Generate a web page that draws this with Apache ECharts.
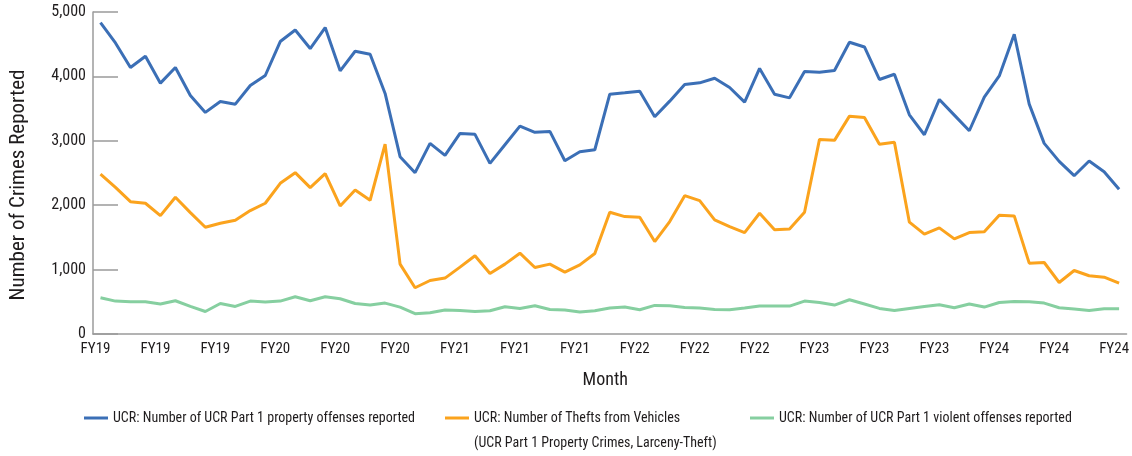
<!DOCTYPE html>
<html>
<head>
<meta charset="utf-8">
<title>UCR crimes reported by month</title>
<script src="https://cdn.jsdelivr.net/npm/echarts@6/dist/echarts.min.js"></script>
<style>
  html, body { margin: 0; padding: 0; background: #fff; }
  #chart { width: 1132px; height: 456px; }
</style>
</head>
<body>
<div id="chart"></div>
<script>
// Monthly values, Jul 2018 (FY19) through Mar 2024 (FY24)
const months = [
  'FY19', 'FY19', 'FY19', 'FY19', 'FY19', 'FY19', 'FY19', 'FY19', 'FY19', 'FY19', 'FY19', 'FY19',
  'FY20', 'FY20', 'FY20', 'FY20', 'FY20', 'FY20', 'FY20', 'FY20', 'FY20', 'FY20', 'FY20', 'FY20',
  'FY21', 'FY21', 'FY21', 'FY21', 'FY21', 'FY21', 'FY21', 'FY21', 'FY21', 'FY21', 'FY21', 'FY21',
  'FY22', 'FY22', 'FY22', 'FY22', 'FY22', 'FY22', 'FY22', 'FY22', 'FY22', 'FY22', 'FY22', 'FY22',
  'FY23', 'FY23', 'FY23', 'FY23', 'FY23', 'FY23', 'FY23', 'FY23', 'FY23', 'FY23', 'FY23', 'FY23',
  'FY24', 'FY24', 'FY24', 'FY24', 'FY24', 'FY24', 'FY24', 'FY24', 'FY24'
];

const propertyOffenses = [
  4836, 4520, 4138, 4313, 3895, 4138, 3704, 3441, 3611, 3569,
  3859, 4014, 4541, 4721, 4433, 4758, 4086, 4391, 4344, 3735,
  2753, 2505, 2960, 2774, 3115, 3100, 2650, 2939, 3228, 3131,
  3146, 2691, 2830, 2861, 3724, 3745, 3771, 3373, 3616, 3875,
  3900, 3972, 3828, 3600, 4123, 3724, 3667, 4076, 4065, 4092,
  4530, 4457, 3952, 4034, 3404, 3094, 3642, 3399, 3156, 3678,
  4008, 4654, 3569, 2960, 2681, 2458, 2686, 2520, 2247
];

const vehicleThefts = [
  2484, 2278, 2055, 2030, 1838, 2123, 1885, 1658, 1720, 1767,
  1916, 2030, 2340, 2505, 2272, 2489, 1989, 2237, 2077, 2949,
  1085, 718, 831, 868, 1038, 1214, 939, 1085, 1255, 1032,
  1085, 961, 1074, 1249, 1891, 1823, 1813, 1435, 1745, 2148,
  2071, 1772, 1668, 1575, 1875, 1617, 1632, 1891, 3022, 3007,
  3383, 3363, 2945, 2976, 1736, 1550, 1648, 1477, 1575, 1586,
  1844, 1834, 1100, 1110, 800, 986, 904, 883, 790
];

const violentOffenses = [
  563, 511, 501, 501, 465, 516, 428, 350, 474, 428,
  511, 496, 511, 578, 516, 578, 547, 474, 449, 480,
  418, 315, 330, 372, 366, 350, 361, 423, 397, 439,
  381, 372, 341, 361, 403, 418, 377, 444, 439, 413,
  403, 382, 377, 403, 434, 434, 434, 511, 490, 449,
  532, 465, 397, 366, 397, 428, 454, 408, 465, 418,
  490, 505, 501, 480, 408, 387, 366, 392, 392
];

const seriesNames = [
  'UCR: Number of UCR Part 1 property offenses reported',
  'UCR: Number of Thefts from Vehicles',
  'UCR: Number of UCR Part 1 violent offenses reported'
];
const theftNote = '(UCR Part 1 Property Crimes, Larceny-Theft)';

const FONT = '"Roboto Condensed", "Liberation Sans Narrow", sans-serif';
const TEXT = '#1f1c1d';
const AXIS = '#9b9b9b';
const colors = ['#3b6fb6', '#fba31d', '#86cfa0'];

const chart = echarts.init(document.getElementById('chart'));

function legendAt(name, left) {
  return {
    data: [name],
    left: left,
    top: 411,
    padding: 0,
    icon: 'rect',
    itemWidth: 24,
    itemHeight: 3,
    textStyle: { fontFamily: FONT, fontSize: 14, color: TEXT }
  };
}

chart.setOption({
  animation: false,
  color: colors,
  grid: { left: 89, right: 3, top: 12, bottom: 122 },
  legend: [
    legendAt(seriesNames[0], 84),
    legendAt(seriesNames[1], 445),
    legendAt(seriesNames[2], 750)
  ],
  graphic: [{
    type: 'text',
    left: 474,
    top: 436,
    style: { text: theftNote, font: '14px ' + FONT, fill: TEXT }
  }],
  xAxis: {
    type: 'category',
    data: months,
    boundaryGap: true,
    name: 'Month',
    nameLocation: 'middle',
    nameGap: 37,
    nameTextStyle: { fontFamily: FONT, fontSize: 18, color: TEXT, padding: [0, 9, 0, 0] },
    axisLine: { lineStyle: { color: AXIS, width: 1.5 } },
    axisTick: { inside: true, length: 8, interval: 0, lineStyle: { color: AXIS, width: 1.5 } },
    axisLabel: {
      interval: 3,
      margin: 8,
      padding: [0, 10, 0, 0],
      fontFamily: FONT,
      fontSize: 15,
      color: TEXT
    },
    splitLine: { show: false }
  },
  yAxis: {
    type: 'value',
    min: 0,
    max: 5000,
    interval: 1000,
    name: 'Number of Crimes Reported',
    nameLocation: 'middle',
    nameGap: 64,
    nameTextStyle: { fontFamily: FONT, fontSize: 21, color: TEXT, padding: [0, 24, 0, 0] },
    axisLine: { show: true, lineStyle: { color: AXIS, width: 1.5 } },
    axisTick: { show: true, inside: true, length: 25, lineStyle: { color: AXIS, width: 1.5 } },
    axisLabel: {
      margin: 7,
      fontFamily: FONT,
      fontSize: 16,
      color: TEXT,
      formatter: v => v.toLocaleString('en-US')
    },
    splitLine: { show: false }
  },
  series: [
    {
      name: seriesNames[2],
      type: 'line',
      data: violentOffenses,
      showSymbol: false,
      lineStyle: { width: 3, color: colors[2] },
      itemStyle: { color: colors[2] },
      z: 2
    },
    {
      name: seriesNames[1],
      type: 'line',
      data: vehicleThefts,
      showSymbol: false,
      lineStyle: { width: 3, color: colors[1] },
      itemStyle: { color: colors[1] },
      z: 3
    },
    {
      name: seriesNames[0],
      type: 'line',
      data: propertyOffenses,
      showSymbol: false,
      lineStyle: { width: 3, color: colors[0] },
      itemStyle: { color: colors[0] },
      z: 4
    }
  ]
});
</script>
</body>
</html>
